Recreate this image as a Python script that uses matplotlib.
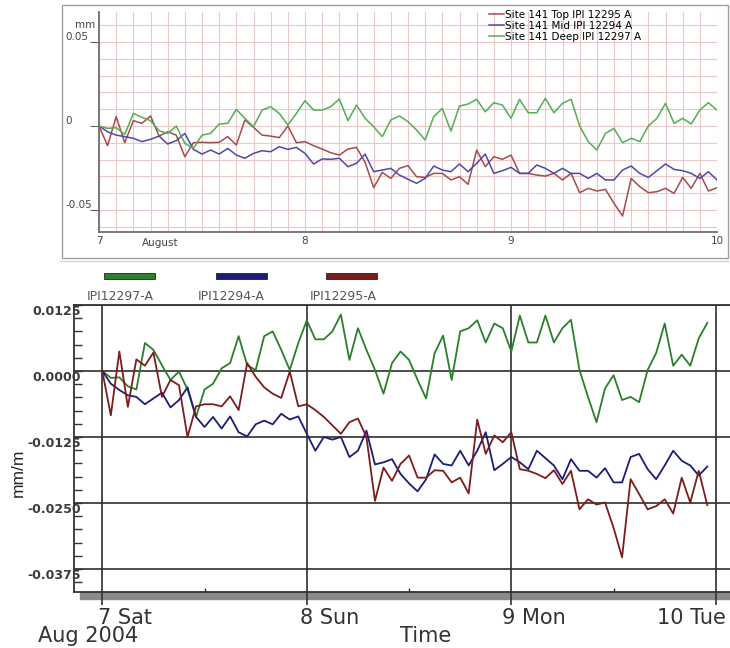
import numpy as np
import matplotlib
matplotlib.use("Agg")
import matplotlib.pyplot as plt
import matplotlib.transforms as mtransforms
from matplotlib.patches import Rectangle
from matplotlib.lines import Line2D
from matplotlib.ticker import MultipleLocator, FixedLocator

W, H = 730, 648

# --- top chart (mm), hourly readings from 7 Aug 00:00 ---
top_hours = np.arange(73)
top_red = [0.0, -0.0117, 0.0056, -0.0099, 0.0032, 0.0016, 0.0060, -0.0060, -0.0034, -0.0054,
           -0.0183, -0.0099, -0.0097, -0.0099, -0.0097, -0.0063, -0.0113, 0.0036, -0.0008, -0.0054,
           -0.0060, -0.0069, 0.0000, -0.0099, -0.0093, -0.0117, -0.0137, -0.0159, -0.0173, -0.0137,
           -0.0127, -0.0216, -0.0367, -0.0276,
           -0.0312, -0.0252, -0.0236, -0.0302, -0.0306, -0.0282, -0.0282, -0.0321, -0.0302, -0.0347,
           -0.0143, -0.0242, -0.0183, -0.0198, -0.0173, -0.0282, -0.0282, -0.0292, -0.0298, -0.0282,
           -0.0321, -0.0282, -0.0397, -0.0371, -0.0387, -0.0377, -0.0460, -0.0536, -0.0312, -0.0361,
           -0.0397, -0.0391, -0.0371, -0.0401, -0.0306, -0.0371, -0.0282, -0.0387, -0.0367]
top_blue = [0.0, -0.0034, -0.0054, -0.0063, -0.0073, -0.0093, -0.0079, -0.0060, -0.0107, -0.0087,
            -0.0044, -0.0139, -0.0167, -0.0143, -0.0167, -0.0133, -0.0173, -0.0192, -0.0163, -0.0147,
            -0.0153, -0.0123, -0.0139, -0.0127, -0.0163, -0.0226, -0.0196, -0.0198, -0.0192, -0.0242,
            -0.0222, -0.0167, -0.0272, -0.0262,
            -0.0252, -0.0292, -0.0317, -0.0341, -0.0312, -0.0238, -0.0262, -0.0272, -0.0226, -0.0272,
            -0.0222, -0.0167, -0.0282, -0.0266, -0.0246, -0.0282, -0.0282, -0.0232, -0.0252, -0.0282,
            -0.0252, -0.0282, -0.0282, -0.0312, -0.0282, -0.0321, -0.0321, -0.0262, -0.0238, -0.0282,
            -0.0306, -0.0266, -0.0226, -0.0258, -0.0266, -0.0282, -0.0312, -0.0272, -0.0321]
top_green = [0.0, -0.0014, -0.0010, -0.0050, 0.0075, 0.0052, 0.0032, -0.0028, -0.0044, 0.0000,
             -0.0103, -0.0133, -0.0054, -0.0044, 0.0012, 0.0016, 0.0099, 0.0046, -0.0004, 0.0095,
             0.0115, 0.0075, 0.0006, 0.0075, 0.0151, 0.0095, 0.0095, 0.0115, 0.0161, 0.0032,
             0.0125, 0.0046, -0.0004, -0.0063,
             0.0036, 0.0060, 0.0026, -0.0024, -0.0083, 0.0056, 0.0105, -0.0030, 0.0119, 0.0131,
             0.0159, 0.0085, 0.0139, 0.0125, 0.0046, 0.0159, 0.0079, 0.0079, 0.0165, 0.0079,
             0.0135, 0.0159, 0.0000, -0.0093, -0.0143, -0.0044, -0.0014, -0.0099, -0.0073, -0.0093,
             0.0000, 0.0046, 0.0135, 0.0016, 0.0046, 0.0012, 0.0095, 0.0139, 0.0095]
top_labels = ["Site 141 Top IPI 12295 A", "Site 141 Mid IPI 12294 A", "Site 141 Deep IPI 12297 A"]
top_yticks = [0.05, 0.0, -0.05]
top_yticklabels = ["0.05", "0", "-0.05"]

# --- bottom chart (mm/m), hourly readings from 7 Aug 00:00 ---
bot_hours = np.arange(72)
bot_green = [0.0, -0.0013, -0.0012, -0.0029, -0.0035, 0.0053, 0.0040, 0.0011, -0.0017, -0.0001,
             -0.0035, -0.0087, -0.0035, -0.0024, 0.0005, 0.0015, 0.0066, 0.0011, 0.0002, 0.0066,
             0.0075, 0.0040, 0.0002, 0.0053, 0.0096, 0.0060, 0.0060, 0.0075, 0.0107, 0.0021,
             0.0081, 0.0040, 0.0002, -0.0043, 0.0015, 0.0037,
             0.0021, -0.0017, -0.0052, 0.0034, 0.0067, -0.0017, 0.0075, 0.0081, 0.0096, 0.0054,
             0.0090, 0.0081, 0.0037, 0.0105, 0.0054, 0.0054, 0.0105, 0.0054, 0.0081, 0.0097,
             0.0002, -0.0049, -0.0097, -0.0033, -0.0008, -0.0055, -0.0049, -0.0059, 0.0002, 0.0034,
             0.0090, 0.0010, 0.0031, 0.0010, 0.0062, 0.0091]
bot_blue = [0.0, -0.0024, -0.0036, -0.0046, -0.0049, -0.0063, -0.0052, -0.0041, -0.0069, -0.0055,
            -0.0031, -0.0087, -0.0106, -0.0087, -0.0109, -0.0086, -0.0116, -0.0124, -0.0101, -0.0094,
            -0.0101, -0.0081, -0.0092, -0.0086, -0.0119, -0.0151, -0.0125, -0.0130, -0.0125, -0.0163,
            -0.0151, -0.0113, -0.0177, -0.0173, -0.0167, -0.0195,
            -0.0213, -0.0228, -0.0205, -0.0158, -0.0176, -0.0179, -0.0151, -0.0179, -0.0151, -0.0116,
            -0.0188, -0.0176, -0.0163, -0.0173, -0.0186, -0.0151, -0.0165, -0.0179, -0.0205, -0.0167,
            -0.0189, -0.0189, -0.0202, -0.0184, -0.0211, -0.0211, -0.0163, -0.0157, -0.0186, -0.0205,
            -0.0179, -0.0151, -0.0170, -0.0179, -0.0198, -0.0181]
bot_red = [0.0, -0.0084, 0.0037, -0.0068, 0.0022, 0.0010, 0.0035, -0.0049, -0.0017, -0.0027,
           -0.0125, -0.0067, -0.0063, -0.0063, -0.0067, -0.0048, -0.0074, 0.0015, -0.0011, -0.0031,
           -0.0043, -0.0051, -0.0001, -0.0067, -0.0063, -0.0074, -0.0087, -0.0103, -0.0119, -0.0097,
           -0.0090, -0.0125, -0.0246, -0.0183, -0.0208, -0.0176,
           -0.0160, -0.0202, -0.0202, -0.0188, -0.0189, -0.0211, -0.0202, -0.0232, -0.0092, -0.0157,
           -0.0122, -0.0135, -0.0116, -0.0186, -0.0189, -0.0195, -0.0203, -0.0188, -0.0214, -0.0189,
           -0.0262, -0.0243, -0.0253, -0.0249, -0.0297, -0.0353, -0.0205, -0.0233, -0.0262, -0.0256,
           -0.0243, -0.0270, -0.0202, -0.0249, -0.0189, -0.0254]
bot_labels = ["IPI12297-A", "IPI12294-A", "IPI12295-A"]
bot_yticks = [0.0125, 0.0, -0.0125, -0.025, -0.0375]
days = [7, 8, 9, 10]
day_labels = ["7 Sat", "8 Sun", "9 Mon", "10 Tue"]


def box(l, t, r, b):
    # pixel box -> figure fraction
    return [l / W, 1 - b / H, (r - l) / W, (b - t) / H]


fig = plt.figure(figsize=(W / 100, H / 100), dpi=100)
fig.patch.set_facecolor("white")

# ================= top panel =================
fig.add_artist(Rectangle((62 / W, 1 - 258 / H), (728 - 62) / W, (258 - 5) / H,
                         transform=fig.transFigure, fill=False, ec="#a0a0a0", lw=1))
ax1 = fig.add_axes(box(99, 12, 717, 232))
t1 = 7 + top_hours / 24
ax1.plot(t1, top_red, color="#a64b4b", lw=1.1, label=top_labels[0])
ax1.plot(t1, top_blue, color="#4a4aa8", lw=1.1, label=top_labels[1])
ax1.plot(t1, top_green, color="#55ad55", lw=1.1, label=top_labels[2])
ax1.set_xlim(7, 10)
ax1.set_ylim(-0.0631, 0.0679)
ax1.xaxis.set_major_locator(FixedLocator(days))
ax1.xaxis.set_minor_locator(MultipleLocator(1 / 12))
ax1.yaxis.set_major_locator(FixedLocator(top_yticks))
ax1.yaxis.set_minor_locator(MultipleLocator(0.01))
ax1.grid(which="both", color="#ebc8c8", lw=0.8)
ax1.set_axisbelow(True)
ax1.tick_params(axis="x", which="both", length=0, labelsize=7.5, pad=3, labelcolor="#444")
ax1.tick_params(axis="y", which="major", length=6.5, color="#666", labelleft=False)
ax1.tick_params(axis="y", which="minor", length=0)
for s in ["top", "right"]:
    ax1.spines[s].set_visible(False)
for s in ["left", "bottom"]:
    ax1.spines[s].set_color("#707070")
    ax1.spines[s].set_linewidth(1.3)

tr1 = mtransforms.blended_transform_factory(fig.transFigure, ax1.transData)
for v, s in zip(top_yticks, top_yticklabels):
    ax1.text(65 / W, v, s, transform=tr1, ha="left", va="bottom", fontsize=7.5, color="#444")
fig.text(95 / W, 1 - 25 / H, "mm", ha="right", va="center", fontsize=7.5, color="#444")
fig.text(142 / W, 1 - 243 / H, "August", ha="left", va="center", fontsize=7.5, color="#444")

ax1.legend(loc="upper left", bbox_to_anchor=(489 / W, 1 - 10 / H), bbox_transform=fig.transFigure,
           frameon=False, fontsize=7.5, handlelength=1.45, handletextpad=0.1,
           labelspacing=0.1, borderpad=0, borderaxespad=0)

fig.add_artist(Line2D([60 / W, 1], [1 - 261 / H, 1 - 261 / H], transform=fig.transFigure,
                      color="#d6d6d6", lw=1))

# ================= bottom panel =================
ax2 = fig.add_axes(box(74, 305, 730, 592))
t2 = 7 + bot_hours / 24
ax2.plot(t2, bot_green, color="#2b7f2b", lw=1.3)
ax2.plot(t2, bot_blue, color="#1c1c7a", lw=1.3)
ax2.plot(t2, bot_red, color="#7c1c1c", lw=1.3)
ax2.set_xlim(6.8616, 10.0694)
ax2.set_ylim(-0.04186, 0.0125)
ax2.xaxis.set_major_locator(FixedLocator(days))
ax2.xaxis.set_minor_locator(FixedLocator([7.5, 8.5, 9.5]))
ax2.yaxis.set_major_locator(FixedLocator(bot_yticks))
ax2.yaxis.set_minor_locator(MultipleLocator(0.0025))
ax2.grid(which="major", color="#2e2e2e", lw=1.2)
ax2.set_axisbelow(True)
ax2.tick_params(axis="y", which="both", direction="in", length=6, width=1, color="#333",
                labelleft=False)
ax2.tick_params(axis="x", which="major", direction="out", length=9.5, width=1.2, color="#333",
                labelbottom=False)
ax2.tick_params(axis="x", which="minor", direction="in", length=3, width=1, color="#333")
ax2.spines["right"].set_visible(False)
for s in ["top", "left", "bottom"]:
    ax2.spines[s].set_color("#333")
    ax2.spines[s].set_linewidth(1.3)

fig.add_artist(Rectangle((80 / W, 1 - 599 / H), (730 - 80) / W, 7 / H, transform=fig.transFigure,
                         color="#8a8a8a", zorder=-1))

tr2 = mtransforms.blended_transform_factory(fig.transFigure, ax2.transData)
for v in bot_yticks:
    ax2.text(81 / W, v, "%.4f" % v, transform=tr2, ha="right", va="top", fontsize=9,
             fontweight="bold", color="#3a3a3a")
fig.text(18 / W, 1 - 473 / H, "mm/m", rotation=90, ha="center", va="center", fontsize=12.5,
         family="Liberation Sans", color="#222")

for x0, s in zip([98, 300, 502, 657], day_labels):
    fig.text(x0 / W, 1 - 618 / H, s, ha="left", va="center", fontsize=15, color="#333")
fig.text(38 / W, 1 - 636 / H, "Aug 2004", ha="left", va="center", fontsize=15, color="#333")
fig.text(400 / W, 1 - 636 / H, "Time", ha="left", va="center", fontsize=15, color="#333")

# legend: swatch above each label
for x0, x1, lab, col in zip([104, 216, 326], [87, 198, 310], bot_labels,
                            ["#2b7f2b", "#1c1c7a", "#7c1c1c"]):
    fig.add_artist(Rectangle((x0 / W, 1 - 279 / H), 51 / W, 6 / H, transform=fig.transFigure,
                             fc=col, ec="#222", lw=0.6))
    fig.text(x1 / W, 1 - 296 / H, lab, ha="left", va="center", fontsize=9, color="#555")

fig.savefig("out.png", dpi=100)
